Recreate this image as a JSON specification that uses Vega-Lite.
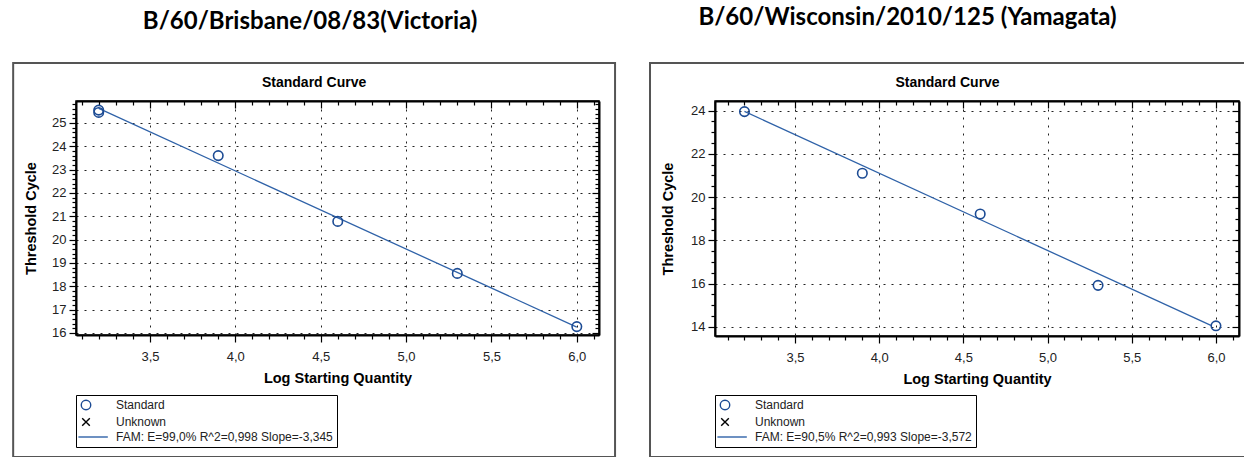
{
  "$schema": "https://vega.github.io/schema/vega-lite/v6.json",
  "padding": {"left": 11, "top": 6, "right": 0, "bottom": 0},
  "background": "white",
  "spacing": 31,
  "resolve": {"scale": {"shape": "independent", "color": "independent"}, "legend": {"shape": "independent", "color": "independent"}},
  "config": {
    "view": {"stroke": "black", "strokeWidth": 1.5},
    "font": "Liberation Sans",
    "axis": {
      "labelFont": "Liberation Sans", "labelFontSize": 13, "labelColor": "#222",
      "titleFont": "Liberation Sans", "titleFontSize": 14.5, "titleFontWeight": "bold", "titleColor": "black",
      "domainColor": "black", "domainWidth": 2, "tickColor": "black", "tickWidth": 1.2,
      "gridColor": "#222", "gridDash": [2, 6], "gridWidth": 1,
      "labelOverlap": false, "labelBound": false, "labelFlush": false
    },
    "legend": {
      "orient": "none", "title": null, "strokeColor": "black", "fillColor": "white", "padding": 4,
      "labelFont": "Liberation Sans", "labelFontSize": 12, "labelColor": "#222", "labelLimit": 400,
      "symbolStrokeWidth": 1.4, "symbolSize": 90, "rowPadding": 2, "labelOffset": 24
    },
    "title": {
      "font": "Liberation Sans", "fontSize": 14, "fontWeight": "bold", "color": "black", "anchor": "middle", "frame": "bounds"
    }
  },
  "hconcat": [
    {
      "title": {"text": "B/60/Brisbane/08/83(Victoria)", "font": "Lato", "fontSize": 24, "fontWeight": "bold", "color": "black", "offset": 27, "anchor": "middle", "frame": "bounds", "dx": -4},
      "vconcat": [
        {
          "width": 523,
          "height": 234,
          "title": {"text": "Standard Curve", "offset": -28},
          "resolve": {"axis": {"x": "independent", "y": "independent"}},
          "layer": [
            {
              "data": {"values": [{"panel": "Victoria"}]},
              "mark": {"type": "rect", "filled": false, "color": "#555", "strokeWidth": 2, "clip": false},
              "encoding": {
                "x": {"datum": 2.699, "type": "quantitative", "scale": {"domain": [3.067, 6.13], "nice": false, "zero": false}, "axis": null},
                "x2": {"datum": 6.224},
                "y": {"datum": 27.57, "type": "quantitative", "scale": {"domain": [15.91, 25.94], "nice": false, "zero": false}, "axis": null},
                "y2": {"datum": 10.68}
              }
            },
            {
              "data": {"values": [{"lsq": 3.2, "ct": 25.62}, {"lsq": 6.0, "ct": 16.25}]},
              "mark": {"type": "line", "color": "#2f62a8", "strokeWidth": 1.3},
              "encoding": {
                "x": {
                  "field": "lsq", "type": "quantitative",
                  "scale": {"domain": [3.067, 6.13], "nice": false, "zero": false},
                  "axis": {
                    "orient": "bottom", "title": "Log Starting Quantity",
                    "values": [3.1,3.2,3.3,3.4,3.5,3.6,3.7,3.8,3.9,4.0,4.1,4.2,4.3,4.4,4.5,4.6,4.7,4.8,4.9,5.0,5.1,5.2,5.3,5.4,5.5,5.6,5.7,5.8,5.9,6.0,6.1],
                    "labelExpr": "abs(datum.value*2-round(datum.value*2))<0.01 ? replace(format(datum.value,'.1f'),'.',',') : ''",
                    "tickSize": {"condition": {"test": "abs(datum.value*2-round(datum.value*2))<0.01", "value": 7}, "value": 4},
                    "grid": true,
                    "gridOpacity": {"condition": {"test": "abs(datum.value*2-round(datum.value*2))<0.01", "value": 1}, "value": 0},
                    "labelPadding": 8, "titlePadding": 8
                  }
                },
                "y": {
                  "field": "ct", "type": "quantitative",
                  "scale": {"domain": [15.91, 25.94], "nice": false, "zero": false},
                  "axis": {
                    "orient": "left", "title": "Threshold Cycle",
                    "values": [16,16.2,16.4,16.6,16.8,17,17.2,17.4,17.6,17.8,18,18.2,18.4,18.6,18.8,19,19.2,19.4,19.6,19.8,20,20.2,20.4,20.6,20.8,21,21.2,21.4,21.6,21.8,22,22.2,22.4,22.6,22.8,23,23.2,23.4,23.6,23.8,24,24.2,24.4,24.6,24.8,25,25.2,25.4,25.6,25.8],
                    "labelExpr": "abs(datum.value-round(datum.value))<0.01 ? format(datum.value,'d') : ''",
                    "tickSize": {"condition": {"test": "abs(datum.value-round(datum.value))<0.01", "value": 7}, "value": 4},
                    "grid": true,
                    "gridOpacity": {"condition": {"test": "abs(datum.value-round(datum.value))<0.01", "value": 1}, "value": 0},
                    "labelPadding": 3, "titlePadding": 13
                  }
                }
              }
            },
            {
              "data": {"values": [
                {"lsq": 3.2, "ct": 25.45, "series": "Standard"},
                {"lsq": 3.2, "ct": 25.55, "series": "Standard"},
                {"lsq": 3.9, "ct": 23.6, "series": "Standard"},
                {"lsq": 4.6, "ct": 20.78, "series": "Standard"},
                {"lsq": 5.3, "ct": 18.55, "series": "Standard"},
                {"lsq": 6.0, "ct": 16.27, "series": "Standard"}
              ]},
              "mark": {"type": "point", "filled": false, "strokeWidth": 1.6, "opacity": 1, "size": 90},
              "encoding": {
                "x": {
                  "field": "lsq", "type": "quantitative",
                  "scale": {"domain": [3.067, 6.13], "nice": false, "zero": false},
                  "axis": {
                    "orient": "top", "title": null, "labels": false, "grid": false,
                    "values": [3.1,3.2,3.3,3.4,3.5,3.6,3.7,3.8,3.9,4.0,4.1,4.2,4.3,4.4,4.5,4.6,4.7,4.8,4.9,5.0,5.1,5.2,5.3,5.4,5.5,5.6,5.7,5.8,5.9,6.0,6.1],
                    "tickSize": {"condition": {"test": "abs(datum.value*2-round(datum.value*2))<0.01", "value": -7}, "value": -4}
                  }
                },
                "y": {
                  "field": "ct", "type": "quantitative",
                  "scale": {"domain": [15.91, 25.94], "nice": false, "zero": false},
                  "axis": {
                    "orient": "right", "title": null, "labels": false, "grid": false,
                    "values": [16,16.2,16.4,16.6,16.8,17,17.2,17.4,17.6,17.8,18,18.2,18.4,18.6,18.8,19,19.2,19.4,19.6,19.8,20,20.2,20.4,20.6,20.8,21,21.2,21.4,21.6,21.8,22,22.2,22.4,22.6,22.8,23,23.2,23.4,23.6,23.8,24,24.2,24.4,24.6,24.8,25,25.2,25.4,25.6,25.8],
                    "tickSize": {"condition": {"test": "abs(datum.value-round(datum.value))<0.01", "value": -7}, "value": -4}
                  }
                },
                "shape": {
                  "field": "series", "type": "nominal",
                  "scale": {
                    "domain": ["Standard", "Unknown", "FAM: E=99,0% R^2=0,998 Slope=-3,345"],
                    "range": ["circle", "M-0.8,-0.8L0.8,0.8M-0.8,0.8L0.8,-0.8", "M-1.6,0L4.6,0"]
                  },
                  "legend": {"legendX": 0, "legendY": 294}
                },
                "color": {
                  "field": "series", "type": "nominal",
                  "scale": {
                    "domain": ["Standard", "Unknown", "FAM: E=99,0% R^2=0,998 Slope=-3,345"],
                    "range": ["#1c4b94", "black", "#2f62a8"]
                  },
                  "legend": {"legendX": 0, "legendY": 294}
                }
              }
            }
          ]
        }
      ]
    },
    {
      "title": {"text": "B/60/Wisconsin/2010/125 (Yamagata)", "font": "Lato", "fontSize": 24, "fontWeight": "bold", "color": "black", "offset": 31, "anchor": "middle", "frame": "bounds", "dx": -40},
      "vconcat": [
        {
          "width": 524,
          "height": 235,
          "title": {"text": "Standard Curve", "offset": -28},
          "resolve": {"axis": {"x": "independent", "y": "independent"}},
          "layer": [
            {
              "data": {"values": [{"panel": "Yamagata"}]},
              "mark": {"type": "rect", "filled": false, "color": "#555", "strokeWidth": 2, "clip": false},
              "encoding": {
                "x": {"datum": 2.639, "type": "quantitative", "scale": {"domain": [3.025, 6.137], "nice": false, "zero": false}, "axis": null},
                "x2": {"datum": 6.173},
                "y": {"datum": 26.196, "type": "quantitative", "scale": {"domain": [13.58, 24.44], "nice": false, "zero": false}, "axis": null},
                "y2": {"datum": 7.99}
              }
            },
            {
              "data": {"values": [{"lsq": 3.2, "ct": 23.96}, {"lsq": 5.97, "ct": 14.07}]},
              "mark": {"type": "line", "color": "#2f62a8", "strokeWidth": 1.3},
              "encoding": {
                "x": {
                  "field": "lsq", "type": "quantitative",
                  "scale": {"domain": [3.025, 6.137], "nice": false, "zero": false},
                  "axis": {
                    "orient": "bottom", "title": "Log Starting Quantity",
                    "values": [3.1,3.2,3.3,3.4,3.5,3.6,3.7,3.8,3.9,4.0,4.1,4.2,4.3,4.4,4.5,4.6,4.7,4.8,4.9,5.0,5.1,5.2,5.3,5.4,5.5,5.6,5.7,5.8,5.9,6.0,6.1],
                    "labelExpr": "abs(datum.value*2-round(datum.value*2))<0.01 ? replace(format(datum.value,'.1f'),'.',',') : ''",
                    "tickSize": {"condition": {"test": "abs(datum.value*2-round(datum.value*2))<0.01", "value": 7}, "value": 4},
                    "grid": true,
                    "gridOpacity": {"condition": {"test": "abs(datum.value*2-round(datum.value*2))<0.01", "value": 1}, "value": 0},
                    "labelPadding": 8, "titlePadding": 8
                  }
                },
                "y": {
                  "field": "ct", "type": "quantitative",
                  "scale": {"domain": [13.58, 24.44], "nice": false, "zero": false},
                  "axis": {
                    "orient": "left", "title": "Threshold Cycle",
                    "values": [14,14.5,15,15.5,16,16.5,17,17.5,18,18.5,19,19.5,20,20.5,21,21.5,22,22.5,23,23.5,24],
                    "labelExpr": "abs(datum.value/2-round(datum.value/2))<0.01 ? format(datum.value,'d') : ''",
                    "tickSize": {"condition": {"test": "abs(datum.value/2-round(datum.value/2))<0.01", "value": 7}, "value": 4},
                    "grid": true,
                    "gridOpacity": {"condition": {"test": "abs(datum.value/2-round(datum.value/2))<0.01", "value": 1}, "value": 0},
                    "labelPadding": 3, "titlePadding": 15
                  }
                }
              }
            },
            {
              "data": {"values": [
                {"lsq": 3.2, "ct": 23.95, "series": "Standard"},
                {"lsq": 3.9, "ct": 21.1, "series": "Standard"},
                {"lsq": 4.6, "ct": 19.22, "series": "Standard"},
                {"lsq": 5.3, "ct": 15.92, "series": "Standard"},
                {"lsq": 6.0, "ct": 14.05, "series": "Standard"}
              ]},
              "mark": {"type": "point", "filled": false, "strokeWidth": 1.6, "opacity": 1, "size": 90},
              "encoding": {
                "x": {
                  "field": "lsq", "type": "quantitative",
                  "scale": {"domain": [3.025, 6.137], "nice": false, "zero": false},
                  "axis": {
                    "orient": "top", "title": null, "labels": false, "grid": false,
                    "values": [3.1,3.2,3.3,3.4,3.5,3.6,3.7,3.8,3.9,4.0,4.1,4.2,4.3,4.4,4.5,4.6,4.7,4.8,4.9,5.0,5.1,5.2,5.3,5.4,5.5,5.6,5.7,5.8,5.9,6.0,6.1],
                    "tickSize": {"condition": {"test": "abs(datum.value*2-round(datum.value*2))<0.01", "value": -7}, "value": -4}
                  }
                },
                "y": {
                  "field": "ct", "type": "quantitative",
                  "scale": {"domain": [13.58, 24.44], "nice": false, "zero": false},
                  "axis": {
                    "orient": "right", "title": null, "labels": false, "grid": false,
                    "values": [14,14.5,15,15.5,16,16.5,17,17.5,18,18.5,19,19.5,20,20.5,21,21.5,22,22.5,23,23.5,24],
                    "tickSize": {"condition": {"test": "abs(datum.value/2-round(datum.value/2))<0.01", "value": -7}, "value": -4}
                  }
                },
                "shape": {
                  "field": "series", "type": "nominal",
                  "scale": {
                    "domain": ["Standard", "Unknown", "FAM: E=90,5% R^2=0,993 Slope=-3,572"],
                    "range": ["circle", "M-0.8,-0.8L0.8,0.8M-0.8,0.8L0.8,-0.8", "M-1.6,0L4.6,0"]
                  },
                  "legend": {"legendX": 0, "legendY": 294}
                },
                "color": {
                  "field": "series", "type": "nominal",
                  "scale": {
                    "domain": ["Standard", "Unknown", "FAM: E=90,5% R^2=0,993 Slope=-3,572"],
                    "range": ["#1c4b94", "black", "#2f62a8"]
                  },
                  "legend": {"legendX": 0, "legendY": 294}
                }
              }
            }
          ]
        }
      ]
    }
  ]
}
